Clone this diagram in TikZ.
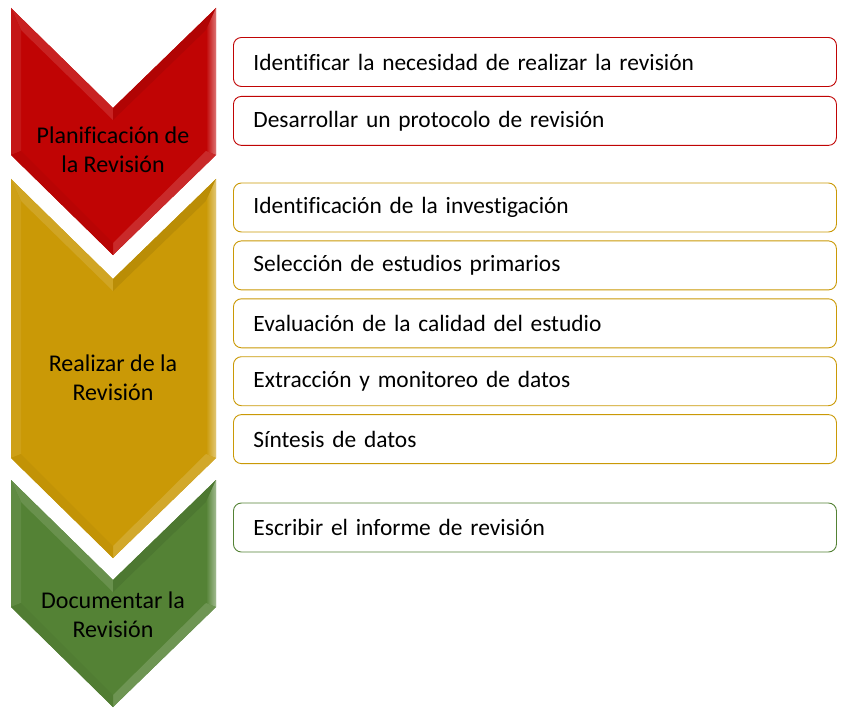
\documentclass[tikz,border=0pt]{standalone}
\usepackage{fontspec}
\setmainfont{Carlito}[Ligatures=NoCommon]
\usepackage{tikz}
\usetikzlibrary{
    positioning,
    calc
}
\definecolor{planred}{RGB}{192,4,4}
\definecolor{runyellow}{RGB}{202,153,6}
\definecolor{docgreen}{RGB}{84,130,53}

% one chevron: #1 top, #2 bottom of the sides, #3 colour
\newcommand{\revchevron}[3]{
    \fill[#3] (11, #1) -- (113, #1 + 100) -- (216, #1) -- (216, #2) -- (113, #2 + 100) -- (11, #2) -- cycle;
    \fill[#3!88!white] (11, #1) -- (113, #1 + 100) -- (113, #1 + 112) -- (21, #1 + 22) -- cycle;
    \fill[#3!92!black] (113, #1 + 100) -- (216, #1) -- (206, #1 + 22) -- (113, #1 + 112) -- cycle;
    \shade[left color=#3, right color=#3!55!white] (216, #1) -- (216, #2) -- (206, #2 - 4) -- (206, #1 + 22) -- cycle;
    \fill[#3!85!white] (216, #2) -- (113, #2 + 100) -- (113, #2 + 88) -- (206, #2 - 4) -- cycle;
    \fill[#3!93!white] (11, #2) -- (11, #1) -- (21, #1 + 22) -- (21, #2 - 4) -- cycle;
    \fill[#3!96!black] (11, #2) -- (21, #2 - 4) -- (113, #2 + 88) -- (113, #2 + 100) -- cycle;
}

\tikzset{
    stepbox/.style={draw=#1, line width=0.9pt, rounded corners=8pt, fill=white,
        anchor=west, text width=563pt, align=left, inner xsep=20pt,
        minimum height=49pt, font=\fontsize{23.4}{28}\selectfont},
    phaselabel/.style={align=center, font=\fontsize{24}{29}\selectfont}
}

\begin{document}
\begin{tikzpicture}[x=1pt, y=-1pt]
    \useasboundingbox (0, 0) rectangle (842, 711);

    \revchevron{8}{155}{planred}
    \revchevron{179}{458}{runyellow}
    \revchevron{480}{607}{docgreen}

    \node[phaselabel] (plan) at (113, 150) {Planificación de\\la Revisión};
    \node[phaselabel] (run) at (113, 378) {Realizar de la\\Revisión};
    \node[phaselabel] (doc) at (113, 615) {Documentar la\\Revisión};

    \node[stepbox=planred] (need) at (233, 62) {Identificar la necesidad de realizar la revisión};
    \node[stepbox=planred, below=9pt of need] (protocol) {Desarrollar un protocolo de revisión};

    \node[stepbox=runyellow] (search) at (233, 207.5) {Identificación de la investigación};
    \node[stepbox=runyellow, below=8pt of search] (select) {Selección de estudios primarios};
    \node[stepbox=runyellow, below=8pt of select] (quality) {Evaluación de la calidad del estudio};
    \node[stepbox=runyellow, below=8pt of quality] (extract) {Extracción y monitoreo de datos};
    \node[stepbox=runyellow, below=8pt of extract] (synth) {Síntesis de datos};

    \node[stepbox=docgreen] (report) at (233, 527.5) {Escribir el informe de revisión};
\end{tikzpicture}
\end{document}
